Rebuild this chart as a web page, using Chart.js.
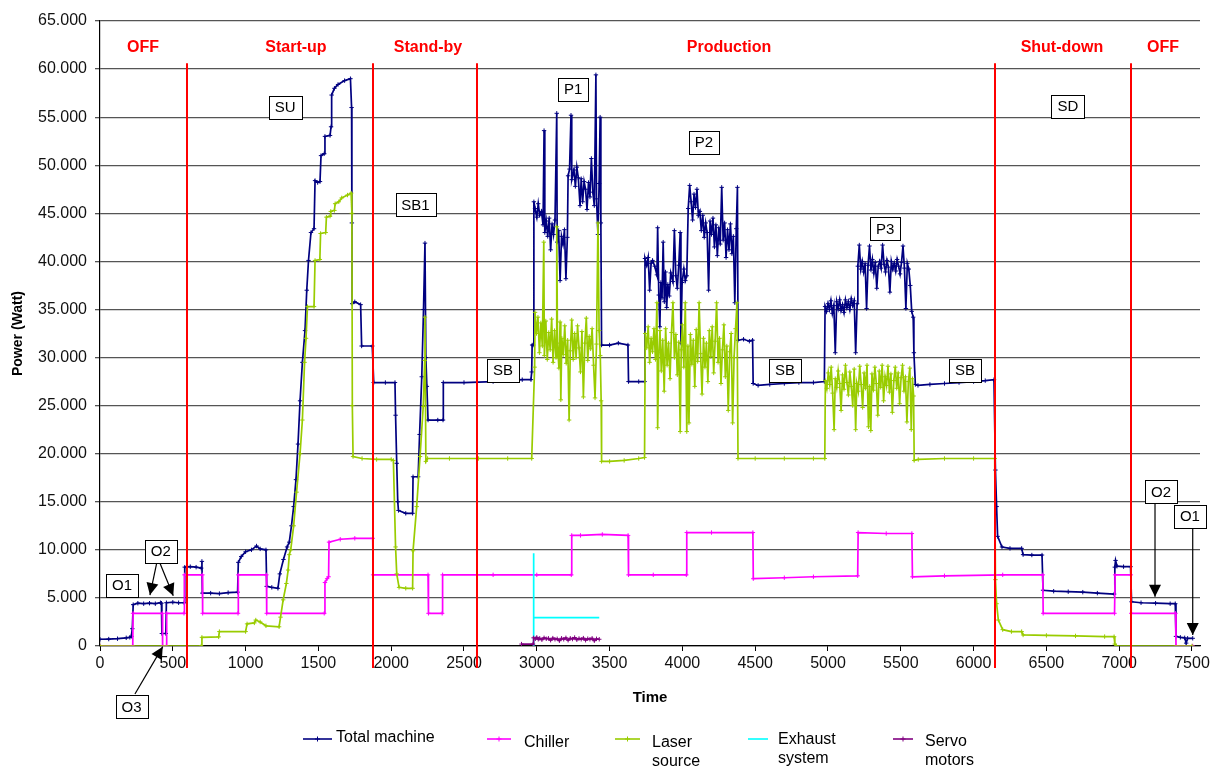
<!DOCTYPE html>
<html><head><meta charset="utf-8">
<script src="https://cdn.jsdelivr.net/npm/chart.js@4.4.1/dist/chart.umd.min.js"></script>
<style>html,body{margin:0;padding:0;background:#fff;}#wrap{width:1216px;height:768px;}</style>
</head><body><div id="wrap"><canvas id="c" width="1216" height="768"></canvas></div>
<script>
// ---------- DATA (time in s, power in W) ----------
const totalT = [0,60,120,180,205,215,222,228,260,300,340,380,415,422,425,452,456,500,540,578,
582,620,660,695,700,703,760,820,880,945,950,970,1000,1040,1075,1100,1140,1145,1180,1222,1235,1260,1285,1300,1315,1330,1346,1360,1374,1390,1408,1420,1432,1449,1470,1477,1495,1511,1518,1540,1545,1580,1587,1591,1610,1635,1680,1720,1728,1730,1732,1750,1790,1797,1870,
1880,1960,2026,2030,2038,2045,2050,2100,2147,2150,2185,2195,2210,2222,2232,2238,2245,2253,2320,2356,2358,2500,2700,2900,2960,
2965,2968,2975,2980,2988,3000,3010,3020,3032,3043,3050,3055,3065,3075,3085,3095,3105,3115,3125,3137,3140,3150,3160,3170,3180,3190,3200,3210,3215,3225,3235,3240,3255,3265,3275,3285,3297,3305,3315,3325,3335,3345,3355,3365,3375,3385,3395,3406,3410,3420,3428,3435,3440,3445,
3500,3560,3626,3630,3700,3740,
3743,3755,3765,3775,3785,3795,3810,3825,3830,3838,3845,3852,3860,3868,3876,3884,3892,3900,3910,3920,3935,3945,3955,3965,3975,3985,3990,3998,4010,4020,4030,4040,4050,4060,4070,4080,4090,4100,4110,4120,4130,4140,4150,4160,4170,4180,4190,4200,4210,4220,4230,4240,4250,4260,4270,4280,4290,4300,4310,4320,4330,4340,4350,4360,4370,4378,4382,
4420,4460,4482,4486,4520,4600,4700,4800,4900,4975,
4980,4990,5000,5010,5020,5030,5040,5050,5060,5070,5080,5090,5100,5110,5120,5130,5140,5150,5160,5170,5180,5190,5200,5205,5215,5225,5235,5245,5255,5265,5275,5285,5295,5305,5315,5325,5335,5345,5355,5365,5375,5385,5395,5405,5415,5425,5435,5445,5455,5465,5475,5485,5495,5505,5515,5525,5535,5545,5555,5565,5575,5585,5590,5600,5618,
5700,5800,5900,6000,6080,6140,
6150,6158,6165,6195,6250,6330,6340,6400,6470,6477,6550,6650,6750,6850,6965,6970,6975,6985,7030,7078,
7085,7150,7250,7350,7385,7390,7420,7450,7460,7470,7505];
const totalW = [700,720,760,850,900,1000,1800,4300,4450,4400,4450,4400,4500,4450,1300,1300,4500,4550,4500,4500,
8200,8250,8200,8100,8800,5500,5500,5450,5550,5600,8700,9300,9800,10000,10400,10100,10000,6200,6100,6000,7500,9000,10300,10800,12500,14500,17300,21000,25500,29500,32800,37000,40100,43000,43400,48400,48200,48300,51000,51200,53000,53100,54000,57300,58000,58400,58800,59000,56000,44000,35600,35800,35500,31200,31200,
27400,27400,27400,24000,19000,15000,14100,13800,13800,17600,17600,22000,28000,35000,41900,30000,27000,23500,23500,23500,27400,27400,27500,27700,27700,
28500,31300,31300,46200,45500,44600,46000,44800,45200,43800,53600,43000,44200,42600,44500,41200,43900,42800,44300,55400,42000,43200,38000,42600,41800,43300,38200,42500,48900,49600,55200,48500,49500,47800,49800,48700,45800,48600,46200,48300,47500,45400,48200,46700,50700,47200,45800,59400,46500,42800,48100,55000,44000,31300,
31300,31500,31300,27500,27500,27500,
40300,39600,40400,37000,39800,40100,39500,38600,43500,36500,33200,37800,36200,42000,35800,38900,35200,37600,36400,38800,37900,43200,38500,37200,39600,43000,31500,37800,39200,38000,38500,45500,47900,46200,44300,47000,45600,47500,44800,45200,43200,44800,42500,44000,43000,37000,44200,42800,44500,41500,43800,40600,43500,41800,47700,42200,44000,40400,43300,41200,43900,40800,42600,35700,43400,47700,31800,
31900,31700,31800,27300,27100,27200,27300,27400,27400,27500,
35300,34800,35600,35000,35900,34600,35400,30500,35800,35100,36000,34900,35500,34700,36000,35200,35800,35000,36100,35400,35900,30500,35600,39500,41700,39200,40000,38900,39800,35100,39600,41600,39100,40200,38800,39900,37200,39500,40000,39300,41700,39700,38900,40100,39400,36800,40000,39200,39800,39000,40200,39500,38700,39900,41600,39300,35100,39800,39200,37500,34800,34200,30500,27200,27100,
27200,27300,27400,27500,27600,27700,
18300,14500,11400,10300,10150,10150,9500,9460,9460,5800,5700,5650,5600,5500,5400,8200,8900,8300,8250,8250,
4600,4500,4450,4400,4400,1000,900,850,300,800,800];

const chillerT = [0,225,227,428,430,456,458,577,580,703,705,948,950,1143,1145,1540,1545,1560,1570,1573,1650,1750,1873,1876,2253,2256,2350,2353,2700,3000,3237,3240,3300,3450,3627,3630,3800,4027,4030,4200,4484,4487,4700,4900,5204,5207,5400,5576,5580,5800,6200,6475,6478,6968,6972,7080,7083,7387,7390,7505];
const chillerW = [0,0,3400,3400,0,0,3400,3400,7400,7400,3400,3400,7400,7400,3400,3400,6600,7000,7200,10800,11100,11200,11200,7400,7400,3400,3400,7400,7400,7400,7400,11500,11500,11600,11500,7400,7400,7400,11800,11800,11800,7000,7100,7200,7300,11800,11700,11700,7200,7300,7400,7400,3400,3400,7400,7400,3400,3400,0,0];

const laserT = [0,695,700,815,820,1000,1010,1060,1070,1100,1140,1230,1240,1258,1280,1292,1300,1310,1330,1350,1374,1390,1405,1415,1425,1470,1477,1510,1515,1550,1555,1580,1585,1610,1615,1640,1660,1700,1725,1730,1733,1738,1800,1900,2000,2015,2030,2038,2054,2100,2147,2150,2175,2198,2220,2230,2232,2238,2250,2400,2600,2800,2965,
2985,2988,2998,3008,3018,3028,3038,3048,3052,3062,3072,3082,3092,3102,3112,3122,3132,3137,3142,3152,3160,3165,3172,3182,3192,3202,3212,3222,3230,3240,3250,3260,3270,3280,3290,3300,3310,3320,3330,3340,3350,3360,3370,3380,3390,3400,3410,3420,3428,3436,3442,3445,3500,3600,3700,3740,
3745,3755,3765,3775,3785,3795,3805,3815,3825,3830,3838,3846,3855,3865,3875,3885,3895,3905,3915,3925,3935,3945,3955,3965,3975,3985,3992,4000,4010,4020,4030,4038,4045,4055,4065,4075,4085,4095,4105,4115,4125,4135,4145,4155,4165,4175,4185,4195,4205,4215,4225,4235,4245,4255,4265,4275,4285,4295,4305,4315,4325,4335,4345,4355,4365,4375,4382,4500,4700,4900,4978,
4982,4992,5002,5012,5022,5032,5042,5050,5060,5070,5080,5090,5100,5110,5120,5130,5140,5150,5160,5170,5180,5190,5198,5208,5218,5228,5238,5248,5258,5268,5278,5286,5294,5302,5312,5322,5332,5342,5352,5362,5372,5382,5392,5402,5412,5422,5432,5442,5452,5462,5472,5482,5492,5502,5512,5522,5532,5542,5552,5562,5572,5580,5588,5592,5620,5800,6000,6145,
6150,6158,6170,6200,6260,6330,6340,6500,6700,6900,6965,6970,6980,7500];
const laserW = [0,0,900,950,1500,1500,2300,2400,2700,2500,2100,2000,3000,4800,6500,7900,9500,10000,12500,16000,20000,23500,29500,32000,35300,35300,40100,40200,42900,43000,44600,44700,45200,45300,46000,46200,46600,46900,47100,45000,25000,19700,19500,19400,19400,19300,10300,7500,6100,6000,6000,9900,14500,19700,24900,29700,34200,19200,19500,19500,19500,19500,19500,
29000,34700,32500,34200,30500,33600,31200,42000,30200,33800,29800,32600,30800,34000,29500,32800,30000,43600,31500,28900,33700,25600,32000,30300,33300,29400,31800,23500,30700,33900,29800,32500,30000,33300,31000,28500,32700,25900,31500,34100,29700,32200,30900,33000,29200,25800,31400,44000,32800,30200,25500,19200,19200,19300,19500,19600,
32500,31000,33200,29500,32000,30600,33000,29800,35700,22700,30500,32800,28600,31800,26500,33000,29200,31500,27800,32600,35700,30000,32400,28200,31600,22300,30800,33400,29000,35700,22300,31200,23200,32400,29300,31800,27000,32900,29600,35700,30400,26200,32000,29000,31500,27500,32800,30100,33200,28400,31700,35700,29500,32000,27300,30800,33400,28000,31200,24500,30600,32500,23200,30000,33000,35700,19500,19500,19500,19500,19500,
27600,26800,28400,27200,29000,26300,22500,27800,26900,28600,27300,24500,28200,26700,29200,27400,26100,28500,27000,25000,28800,22500,27300,26500,29100,27200,24800,28400,26800,29200,22800,27000,22400,28300,26600,29000,27300,24000,28600,26900,29200,25500,28000,27100,29100,26400,28300,24300,27600,29000,26800,28400,25200,27900,29200,26500,28000,23300,27500,28900,22500,27800,26000,19300,19400,19500,19500,19500,
6900,4400,2700,1700,1500,1500,1150,1100,1050,980,970,200,0,0];

const exhaustT = [2976,2977,2980,3429];
const exhaustW = [0,9640,2950,2950];

const servoT = [2895,2974,2978,2990,3000,3010,3020,3035,3050,3065,3080,3095,3110,3125,3140,3155,3170,3185,3200,3215,3230,3245,3260,3275,3290,3305,3320,3335,3350,3365,3380,3395,3410,3429];
const servoW = [200,200,850,750,900,700,800,650,850,750,800,600,820,700,750,550,800,700,850,600,800,720,880,650,780,700,820,600,760,700,800,550,750,700];

const seriesNames = ['Total machine','Chiller','Laser source','Exhaust system','Servo motors'];
const yTickValues = [0,5000,10000,15000,20000,25000,30000,35000,40000,45000,50000,55000,60000,65000];
const xTickValues = [0,500,1000,1500,2000,2500,3000,3500,4000,4500,5000,5500,6000,6500,7000,7500];

// phases
const phaseBounds = [597,1875,2589,6147,7081];
const phaseNames = ['OFF','Start-up','Stand-by','Production','Shut-down','OFF'];
const phaseLabelT = [295,1346,2253,4320,6607,7301];

// annotation boxes (anchored in data units)
const noteLabels = ['SU','SB1','SB','P1','P2','P3','SB','SB','SD','O1','O2','O3','O2','O1'];
const noteT = [1271,2167,2768,3250,4148,5393,4705,5941,6648,151,417,217,7287,7486];
const noteW = [56030,45900,28690,57900,52400,43370,28690,28690,56130,6340,9880,-6290,16060,13510];
// arrows: [t0,w0,t1,w1]
const arrows = [[389,8600,343,5300],[412,8600,503,5230],[240,-4990,431,-70],[7246,14830,7246,5125],[7505,12240,7505,1140]];

// ---------- CHART ----------
const colors = ['#000080','#ff00ff','#99cc00','#00ffff','#800080'];
const xs = [totalT,chillerT,laserT,exhaustT,servoT];
const ys = [totalW,chillerW,laserW,exhaustW,servoW];
const FONT = '"Liberation Sans", Arial, sans-serif';

const datasets = seriesNames.map((n,i)=>({
  label:n,
  data: xs[i].map((t,k)=>({x:t,y:ys[i][k]})),
  borderColor: colors[i], backgroundColor: colors[i],
  borderWidth: 1.7, pointStyle: i===3 ? false : 'cross', pointRadius: i===3?0:2.2,
  pointBorderWidth: 1, tension: 0, order: 5-i
}));

function drawArrow(ctx,x0,y0,x1,y1){
  ctx.beginPath(); ctx.moveTo(x0,y0); ctx.lineTo(x1,y1); ctx.stroke();
  const a = Math.atan2(y1-y0,x1-x0), L=12, W=6;
  ctx.beginPath();
  ctx.moveTo(x1,y1);
  ctx.lineTo(x1-L*Math.cos(a)+W*Math.sin(a), y1-L*Math.sin(a)-W*Math.cos(a));
  ctx.lineTo(x1-L*Math.cos(a)-W*Math.sin(a), y1-L*Math.sin(a)+W*Math.cos(a));
  ctx.closePath(); ctx.fill();
}

const overlay = {
  id:'overlay',
  afterDatasetsDraw(chart){
    const {ctx, scales:{x,y}} = chart;
    ctx.save();
    ctx.strokeStyle='#ff0000'; ctx.lineWidth=2;
    phaseBounds.forEach(t=>{
      const px = Math.round(x.getPixelForValue(t));
      ctx.beginPath(); ctx.moveTo(px, y.getPixelForValue(60600)); ctx.lineTo(px, y.getPixelForValue(-2300)); ctx.stroke();
    });
    ctx.fillStyle='#ff0000'; ctx.font='bold 16px '+FONT; ctx.textAlign='center'; ctx.textBaseline='middle';
    phaseNames.forEach((n,i)=>ctx.fillText(n, x.getPixelForValue(phaseLabelT[i]), y.getPixelForValue(62200)));
    // arrows
    ctx.strokeStyle='#000'; ctx.fillStyle='#000'; ctx.lineWidth=1.2;
    arrows.forEach(a=>drawArrow(ctx, x.getPixelForValue(a[0]), y.getPixelForValue(a[1]), x.getPixelForValue(a[2]), y.getPixelForValue(a[3])));
    // boxes
    ctx.font='15px '+FONT; ctx.lineWidth=1;
    noteLabels.forEach((s,i)=>{
      const cx = x.getPixelForValue(noteT[i]), cy = y.getPixelForValue(noteW[i]);
      const w = Math.round(ctx.measureText(s).width + 12), h = 23;
      const bx = Math.round(cx - w/2)+0.5, by = Math.round(cy - h/2)+0.5;
      ctx.fillStyle='#fff'; ctx.fillRect(bx,by,w,h);
      ctx.strokeStyle='#000'; ctx.strokeRect(bx,by,w,h);
      ctx.fillStyle='#000'; ctx.fillText(s, cx, cy+1);
    });
    ctx.restore();
  },
  afterDraw(chart){
    const ctx = chart.ctx;
    ctx.save();
    const items = [
      {line:[303,332], text:['Total machine'], tx:336, ly:739, ty:738},
      {line:[487,511], text:['Chiller'], tx:524, ly:739, ty:743},
      {line:[615,640], text:['Laser','source'], tx:652, ly:739, ty:743},
      {line:[748,768], text:['Exhaust','system'], tx:778, ly:739, ty:740},
      {line:[893,913], text:['Servo','motors'], tx:925, ly:739, ty:742}
    ];
    ctx.font='16px '+FONT; ctx.textBaseline='middle'; ctx.textAlign='left';
    items.forEach((it,i)=>{
      ctx.strokeStyle=colors[i]; ctx.lineWidth=1.6;
      ctx.beginPath(); ctx.moveTo(it.line[0], it.ly); ctx.lineTo(it.line[1], it.ly); ctx.stroke();
      if(i!==3){ const mx=(it.line[0]+it.line[1])/2; ctx.lineWidth=1; ctx.beginPath(); ctx.moveTo(mx,it.ly-2.5); ctx.lineTo(mx,it.ly+2.5); ctx.moveTo(mx-2.5,it.ly); ctx.lineTo(mx+2.5,it.ly); ctx.stroke(); }
      ctx.fillStyle='#000';
      it.text.forEach((t,k)=>ctx.fillText(t, it.tx, it.ty + k*19));
    });
    ctx.restore();
  }
};

new Chart(document.getElementById('c'), {
  type:'line',
  data:{datasets},
  options:{
    responsive:false, animation:false, devicePixelRatio:1,
    layout:{padding:{top:21,right:16,left:0,bottom:0}},
    plugins:{legend:{display:false}, tooltip:{enabled:false}},
    scales:{
      x:{type:'linear', min:0, max:7555,
        afterFit:(s)=>{s.height=122;},
        afterBuildTicks:(s)=>{s.ticks = xTickValues.map(v=>({value:v}));},
        ticks:{autoSkip:false, maxRotation:0, color:'#111', font:{family:FONT,size:16}, padding:3,
          callback:(v)=>String(v)},
        grid:{drawOnChartArea:false, drawTicks:true, tickLength:5, color:'#000'},
        border:{color:'#000', width:1.2},
        title:{display:true, text:'Time', color:'#000', font:{family:FONT,size:15,weight:'bold'}, padding:{top:0,bottom:61}}
      },
      y:{min:0, max:65000,
        afterFit:(s)=>{s.width=100;},
        afterBuildTicks:(s)=>{s.ticks = yTickValues.map(v=>({value:v}));},
        ticks:{color:'#111', font:{family:FONT,size:16}, padding:8,
          callback:(v)=>v===0?'0':v.toLocaleString('de-DE')},
        grid:{color:'#555', lineWidth:1.3, tickLength:5, drawTicks:true},
        border:{color:'#000', width:1.2},
        title:{display:true, text:'Power (Watt)', color:'#000', font:{family:FONT,size:14,weight:'bold'}, padding:{top:10,bottom:0}}
      }
    }
  },
  plugins:[overlay]
});
</script></body></html>
